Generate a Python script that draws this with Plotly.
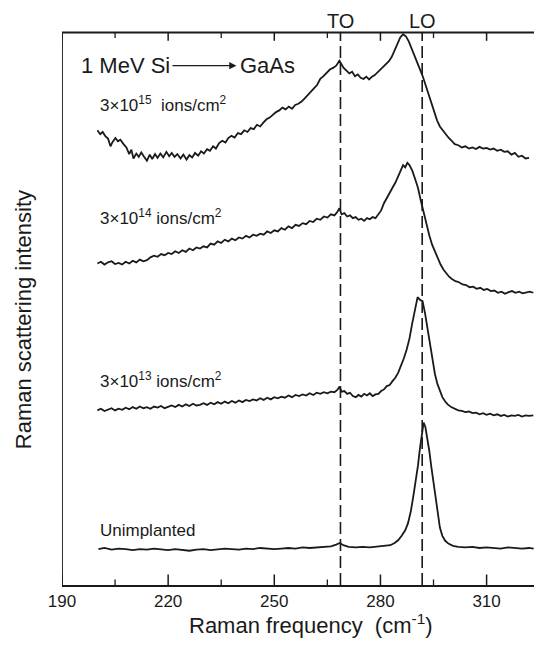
import plotly.graph_objects as go

# ---------------- data ----------------
freq_15 = [200.0,200.8,201.5,202.3,203.0,203.7,204.3,205.1,205.8,206.5,207.4,208.2,209.0,209.6,210.2,211.0,211.7,212.4,213.1,214.0,
           214.8,215.5,216.3,217.0,217.8,218.6,219.5,220.3,221.0,221.8,222.6,223.5,224.3,225.2,226.0,226.8,227.6,228.5,229.3,230.1,
           231.0,231.8,232.7,233.5,234.4,235.3,236.2,237.0,237.9,238.8,239.7,240.6,241.5,242.4,243.3,244.2,245.1,246.0,246.9,247.8,
           248.7,249.6,250.5,251.4,252.3,253.2,254.1,255.0,255.9,256.8,257.7,258.6,259.4,260.3,261.2,262.1,263.0,263.9,264.8,265.7,
           266.6,267.5,268.4,269.0,269.6,270.4,271.2,272.0,272.8,273.6,274.4,275.2,276.0,276.8,277.6,278.4,279.2,280.0,280.8,281.6,
           282.4,283.2,284.0,284.8,285.6,286.4,287.2,288.0,288.8,289.6,290.4,291.2,292.0,292.8,293.6,294.4,295.2,296.0,296.8,297.6,
           298.4,299.2,300.0,301.0,302.0,303.0,304.0,305.0,306.0,307.0,308.0,309.0,310.0,311.0,312.0,313.0,314.0,315.0,316.0,317.0,
           318.0,319.0,320.0,321.0,322.0]
int_15 = [82.3,81.6,82.0,81.2,80.8,79.4,80.2,80.9,80.3,80.6,79.8,79.2,78.0,78.8,77.2,78.1,77.5,78.3,77.6,76.8,
          77.9,77.1,78.0,77.3,78.1,77.4,78.4,77.6,78.2,77.5,78.0,77.2,77.9,77.0,77.8,77.4,78.2,77.7,78.5,78.1,
          78.9,78.6,79.4,79.0,80.0,80.4,80.1,80.9,81.3,81.0,81.8,81.6,82.3,82.0,82.7,82.5,83.3,83.0,83.7,84.3,
          84.6,85.1,85.6,85.9,86.4,86.1,86.6,86.2,86.9,87.1,87.5,88.1,88.7,89.2,89.9,90.5,91.6,92.1,92.8,93.3,
          93.6,94.0,94.9,94.2,93.6,93.1,92.6,92.9,92.1,92.4,91.8,91.6,92.0,91.5,92.0,92.3,92.8,93.2,93.8,94.2,
          94.8,95.6,96.7,98.0,99.1,99.7,99.3,98.4,97.2,96.0,94.6,93.3,92.0,90.4,88.7,87.1,85.6,84.1,83.0,82.3,
          81.5,81.0,80.5,79.8,79.6,79.2,79.4,79.0,79.2,78.9,79.3,79.0,79.1,78.8,79.0,78.6,78.8,78.4,78.5,77.9,
          78.2,77.5,77.7,77.2,77.3]

freq_14 = [200,201,202,203,204,205,206,207,208,209,210,211,212,213,214,215,216,217,218,219,
           220,221,222,223,224,225,226,227,228,229,230,231,232,233,234,235,236,237,238,239,
           240,241,242,243,244,245,246,247,248,249,250,251,252,253,254,255,256,257,258,259,
           260,261,262,263,264,265,266,267,267.8,268.4,269.0,269.8,270.6,271.4,272.2,273.0,273.8,274.6,275.4,276.2,
           277.0,277.8,278.6,279.4,280.2,281.0,281.8,282.6,283.4,284.2,285.0,285.8,286.4,287.0,287.6,288.2,289.0,289.8,290.6,291.4,
           292.2,293.0,293.8,294.6,295.4,296.2,297.0,297.8,298.6,299.4,300.2,301.2,302.2,303.2,304.2,305.2,306.2,307.2,308.2,309.2,
           310.2,311.2,312.2,313.2,314.2,315.2,316.2,317.2,318.2,319.2,320.2,321.2,322.2,323.2]
int_14 = [58.2,58.5,58.0,58.4,58.6,58.1,58.3,58.0,58.5,58.2,58.7,58.4,58.9,58.6,58.8,59.3,59.6,59.4,59.9,59.7,
          60.1,59.9,60.4,60.1,60.6,60.3,60.9,60.6,61.1,60.9,61.3,61.1,61.8,61.6,62.2,61.9,62.5,62.2,62.7,62.4,
          62.9,62.7,63.2,62.9,63.4,63.2,63.6,63.4,64.0,63.7,64.2,64.0,64.6,64.3,64.9,64.6,65.2,65.0,65.5,65.3,
          65.9,65.7,66.3,66.1,66.7,66.5,67.1,66.9,67.5,68.2,67.1,67.3,66.7,66.9,66.4,66.6,66.1,66.3,65.9,66.4,
          66.2,66.6,66.4,67.0,67.8,69.1,70.1,71.0,71.9,72.8,73.9,75.2,76.0,75.6,76.4,76.0,75.0,73.5,71.9,69.6,
          67.3,65.2,63.3,61.6,60.3,59.1,58.0,57.1,56.4,55.8,55.4,55.0,54.8,54.4,54.3,53.9,54.0,53.6,53.8,53.4,
          53.6,53.2,53.3,52.9,53.1,52.7,53.0,53.2,52.9,53.1,52.8,53.0,53.1,52.9]

freq_13 = [200,201,202,203,204,205,206,207,208,209,210,211,212,213,214,215,216,217,218,219,
           220,221,222,223,224,225,226,227,228,229,230,231,232,233,234,235,236,237,238,239,
           240,241,242,243,244,245,246,247,248,249,250,251,252,253,254,255,256,257,258,259,
           260,261,262,263,264,265,266,267,267.8,268.4,269.0,269.8,270.6,271.4,272.2,273.0,273.8,274.6,275.4,276.2,
           277.0,277.8,278.6,279.4,280.2,281.0,281.8,282.6,283.4,284.2,285.0,285.8,286.6,287.4,288.2,289.0,289.8,290.5,291.2,291.9,
           292.6,293.3,294.0,294.7,295.4,296.1,296.8,297.5,298.2,299.0,300,301,302,303,304,305,306,307,308,309,
           310,311,312,313,314,315,316,317,318,319,320,321,322,323.2]
int_13 = [31.6,31.9,31.5,31.8,32.0,31.6,31.9,31.7,32.1,31.8,32.2,31.9,32.3,32.0,32.2,31.9,32.3,32.1,32.4,32.0,
          32.3,32.5,32.2,32.6,32.3,32.7,32.4,32.8,32.5,32.6,32.9,32.6,33.0,32.7,33.1,32.8,33.2,32.9,33.3,33.0,
          33.4,33.1,33.5,33.3,33.6,33.4,33.8,33.5,33.9,33.6,34.0,33.8,34.1,33.9,34.3,34.0,34.4,34.2,34.5,34.3,
          34.7,34.4,34.8,34.6,34.9,34.7,35.0,34.9,35.3,35.9,35.0,35.1,34.6,34.8,34.2,34.0,34.4,34.1,34.6,34.3,
          34.7,34.2,34.5,34.6,35.1,35.4,36.0,36.2,36.9,37.5,38.4,39.6,41.0,42.6,44.6,47.4,50.0,52.1,51.6,51.4,
          49.2,46.3,43.4,40.5,38.2,36.4,35.0,34.0,33.3,32.7,32.2,31.9,31.6,31.5,31.3,31.4,31.1,31.2,30.9,31.1,
          30.8,31.0,30.7,30.9,30.6,30.8,30.5,30.7,30.6,30.8,30.5,30.7,30.6,30.7]

freq_un = [200.3,202,204,206,208,210,212,214,216,218,220,222,224,226,228,230,232,234,236,238,
           240,242,244,246,248,250,252,254,256,258,260,262,264,266,267.5,268.5,269.5,271,273,275,
           277,279,281,282.8,284,285,286,287,287.8,288.6,289.3,290,290.6,291.2,291.7,292.2,292.7,293.2,293.8,294.4,
           295,295.6,296.2,296.8,297.5,298.3,299.2,300.5,302,304,306,308,310,312,314,316,318,320,322,323.3]
int_un = [6.5,6.7,6.4,6.6,6.5,6.3,6.5,6.4,6.6,6.4,6.3,6.5,6.4,6.2,6.4,6.5,6.3,6.4,6.6,6.5,
          6.4,6.6,6.5,6.7,6.6,6.5,6.6,6.7,6.6,6.8,6.7,6.8,6.9,7.0,7.3,7.6,7.2,6.9,6.8,6.9,
          6.8,6.9,7.0,7.2,7.6,8.1,8.9,9.9,11.2,13.4,16.1,18.9,21.6,24.9,27.6,29.4,28.6,26.9,24.3,21.3,
          18.6,15.9,12.9,10.4,8.9,8.0,7.5,7.1,6.9,6.8,6.9,6.7,6.8,6.7,6.6,6.8,6.7,6.6,6.7,6.6]

series = [(freq_15, int_15), (freq_14, int_14), (freq_13, int_13), (freq_un, int_un)]

# phonon reference lines
phonon_names = ["TO", "LO"]
phonon_freqs = [268.7, 291.8]

# x axis ticks
major_ticks = [190, 220, 250, 280, 310]
minor_ticks = [205, 235, 265, 295]

# curve labels (text, x, y)
curve_labels = [
    ("3×10<sup>15</sup>  ions/cm<sup>2</sup>", 200.3, 87.0),
    ("3×10<sup>14</sup> ions/cm<sup>2</sup>", 200.3, 66.7),
    ("3×10<sup>13</sup> ions/cm<sup>2</sup>", 200.3, 37.1),
    ("Unimplanted", 200.3, 9.9),
]

INK = "#1a1a1a"
FONT = "Liberation Sans, Arial, sans-serif"
X_RANGE = [190, 323.4]
Y_FRAME = [0, 100]          # frame of the original plot
Y_RANGE = [0, 101]          # a little head-room so the top edge stays inside the plot area

fig = go.Figure()

# frame: top edge and left edge (the reference is cropped on the right)
fig.add_trace(go.Scatter(x=[X_RANGE[0], X_RANGE[0], X_RANGE[1]],
                         y=[Y_FRAME[0], Y_FRAME[1], Y_FRAME[1]], mode="lines",
                         line=dict(color=INK, width=1.8), showlegend=False,
                         hoverinfo="skip", cliponaxis=False))

for fx, iy in series:
    fig.add_trace(go.Scatter(x=fx, y=iy, mode="lines",
                             line=dict(color=INK, width=1.8), showlegend=False,
                             hoverinfo="skip", cliponaxis=False))

for f in phonon_freqs:
    fig.add_shape(type="line", xref="x", yref="y", x0=f, x1=f, y0=Y_FRAME[0], y1=Y_FRAME[1],
                  line=dict(color=INK, width=1.6, dash="12px,5px"))

# inward tick marks on bottom and top
for t in major_ticks:
    fig.add_shape(type="line", xref="x", yref="y", x0=t, x1=t, y0=Y_FRAME[0], y1=Y_FRAME[0] + 1.9,
                  line=dict(color=INK, width=1.5))
    fig.add_shape(type="line", xref="x", yref="y", x0=t, x1=t, y0=Y_FRAME[1], y1=Y_FRAME[1] - 1.5,
                  line=dict(color=INK, width=1.5))
for t in minor_ticks:
    fig.add_shape(type="line", xref="x", yref="y", x0=t, x1=t, y0=Y_FRAME[0], y1=Y_FRAME[0] + 1.0,
                  line=dict(color=INK, width=1.3))
    fig.add_shape(type="line", xref="x", yref="y", x0=t, x1=t, y0=Y_FRAME[1], y1=Y_FRAME[1] - 1.0,
                  line=dict(color=INK, width=1.3))

for name, f in zip(phonon_names, phonon_freqs):
    fig.add_annotation(text=name, x=f, y=1.011, xref="x", yref="paper", showarrow=False,
                       xanchor="center", yanchor="middle",
                       font=dict(size=20, color=INK, family=FONT))

for txt, lx, ly in curve_labels:
    fig.add_annotation(text=txt, x=lx, y=ly, xref="x", yref="y", showarrow=False,
                       xanchor="left", yanchor="middle",
                       font=dict(size=17, color=INK, family=FONT))

# "1 MeV Si --> GaAs"
fig.add_annotation(text="1 MeV Si", x=194.9, y=94.0, xref="x", yref="y", showarrow=False,
                   xanchor="left", yanchor="middle", font=dict(size=22, color=INK, family=FONT))
fig.add_annotation(text="GaAs", x=239.8, y=94.0, xref="x", yref="y", showarrow=False,
                   xanchor="left", yanchor="middle", font=dict(size=22, color=INK, family=FONT))
fig.add_annotation(text="", x=239.3, y=94.0, ax=220.8, ay=94.0, xref="x", yref="y",
                   axref="x", ayref="y", showarrow=True, arrowhead=2, arrowsize=1.1,
                   arrowwidth=1.3, arrowcolor=INK)

# axis titles
fig.add_annotation(text="Raman frequency\u00a0\u00a0(cm<sup>-1</sup>)", x=0.528, y=-0.069,
                   xref="paper", yref="paper", showarrow=False, xanchor="center", yanchor="middle",
                   font=dict(size=22, color=INK, family=FONT))
fig.add_annotation(text="Raman scattering intensity", x=-0.08, y=0.475, xref="paper", yref="paper",
                   showarrow=False, textangle=-90, xanchor="center", yanchor="middle",
                   font=dict(size=22, color=INK, family=FONT))

fig.update_layout(
    xaxis=dict(range=X_RANGE, showgrid=False, zeroline=False,
               showline=True, linecolor=INK, linewidth=1.6,
               tickmode="array", tickvals=major_ticks, ticktext=[str(t) for t in major_ticks],
               ticks="", tickfont=dict(size=17, color=INK, family=FONT)),
    yaxis=dict(range=Y_RANGE, showgrid=False, zeroline=False, showline=False,
               showticklabels=False, ticks=""),
    width=534, height=651, margin=dict(l=62, r=0, t=27, b=66),
    plot_bgcolor="white", paper_bgcolor="white")

fig.write_html("out.html")
